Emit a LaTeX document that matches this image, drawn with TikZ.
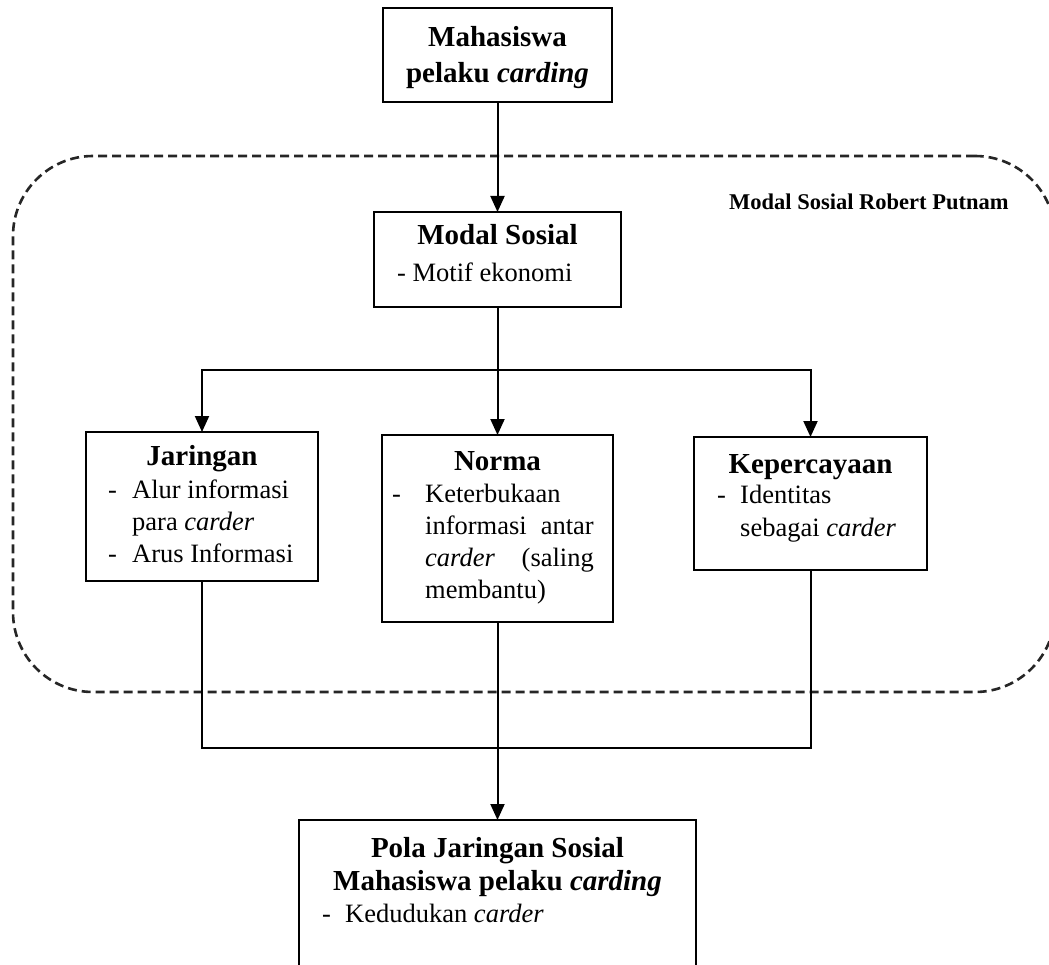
\documentclass[tikz,border=0pt]{standalone}
\usepackage{fontspec}
\setmainfont{Liberation Serif}
\usetikzlibrary{arrows.meta}
\begin{document}
\begin{tikzpicture}[x=1pt,y=-1pt,
  boxst/.style={draw=black, line width=2pt, inner sep=0pt, outer sep=0pt, anchor=north west},
  arrst/.style={line width=2pt, -{Triangle[width=14pt,length=16pt]}},
  lnst/.style={line width=2pt},
  dashst/.style={draw=black!85, line width=2.6pt, dash pattern=on 9pt off 5pt, rounded corners=80pt, inner sep=0pt, outer sep=0pt, anchor=north west},
  ttl/.style={font=\fontsize{29}{34}\selectfont\bfseries, inner sep=0pt, anchor=base},
  txt/.style={font=\fontsize{26.5}{31}\selectfont, inner sep=0pt, anchor=base west},
  txe/.style={font=\fontsize{26.5}{31}\selectfont, inner sep=0pt, anchor=base east},
  lbl/.style={font=\fontsize{22.5}{26}\selectfont\bfseries, inner sep=0pt, anchor=base west}
]
\useasboundingbox (0,0) rectangle (1049,965);
\clip (0,0) rectangle (1049,965);

% dashed frame
\node[dashst, minimum width=1042pt, minimum height=536pt] (frame) at (13,156) {};
\node[lbl] (framelbl) at (729,210) {Modal Sosial Robert Putnam};

% boxes
\node[boxst, minimum width=229pt, minimum height=94pt] (top) at (383,8) {};
\node[boxst, minimum width=247pt, minimum height=95pt] (modal) at (374,212) {};
\node[boxst, minimum width=232pt, minimum height=149pt] (jar) at (86,432) {};
\node[boxst, minimum width=231pt, minimum height=187pt] (norma) at (382,435) {};
\node[boxst, minimum width=233pt, minimum height=133pt] (kep) at (694,437) {};
\node[boxst, minimum width=397pt, minimum height=170pt] (pola) at (299,820) {};

% texts: top
\node[ttl] (t1) at (497.5,47) {Mahasiswa};
\node[ttl] (t2) at (497.5,83) {pelaku \textit{carding}};
% modal
\node[ttl] (m1) at (497.5,245) {Modal Sosial};
\node[txt] (m2) at (397,282) {- Motif ekonomi};
% jaringan
\node[ttl] (j1) at (202,465) {Jaringan};
\node[txt] (j2d) at (108,498) {-};
\node[txt] (j2) at (132,498) {Alur informasi};
\node[txt] (j3) at (132,530) {para \textit{carder}};
\node[txt] (j4d) at (108,562) {-};
\node[txt] (j4) at (132,562) {Arus Informasi};
% norma
\node[ttl] (n1) at (497.5,470) {Norma};
\node[txt] (n2d) at (392,502) {-};
\node[txt] (n2) at (425,502) {Keterbukaan};
\node[txt] (n3a) at (425,534) {informasi};
\node[txe] (n3b) at (594,534) {antar};
\node[txt] (n4a) at (425,566) {\textit{carder}};
\node[txe] (n4b) at (594,566) {(saling};
\node[txt] (n5) at (425,598) {membantu)};
% kepercayaan
\node[ttl] (k1) at (810.5,473) {Kepercayaan};
\node[txt] (k2d) at (717,503) {-};
\node[txt] (k2) at (740,503) {Identitas};
\node[txt] (k3) at (740,536) {sebagai \textit{carder}};
% pola
\node[ttl] (p1) at (497.5,857) {Pola Jaringan Sosial};
\node[ttl] (p2) at (497.5,890) {Mahasiswa pelaku \textit{carding}};
\node[txt] (p3d) at (322,922) {-};
\node[txt] (p3) at (345,922) {Kedudukan \textit{carder}};

% connectors
\coordinate (split) at (497.5,370);
\coordinate (join) at (497.5,748);
\draw[arrst] (top.south) -- (modal.north);
\draw[lnst] (modal.south) -- (split);
\draw[arrst] (split) -| (jar.north);
\draw[arrst] (split) -| (kep.north);
\draw[arrst] (split) -- (norma.north);
\draw[lnst] (jar.south) |- (join) -| (kep.south);
\draw[arrst] (norma.south) -- (pola.north);
\end{tikzpicture}
\end{document}
